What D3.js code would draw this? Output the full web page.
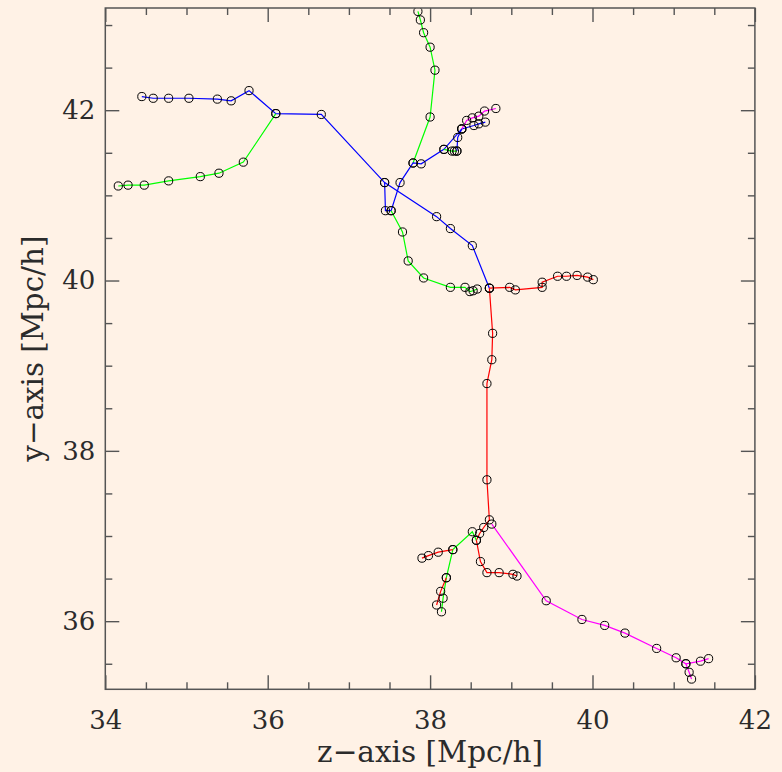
<!DOCTYPE html>
<html>
<head>
<meta charset="utf-8">
<script src="https://cdn.jsdelivr.net/npm/d3@7"></script>
<style>
  html, body { margin: 0; padding: 0; background: #FFF2E6; }
  svg { display: block; }
</style>
</head>
<body>
<svg id="chart" width="782" height="772"></svg>
<script>
// ---- data (z, y in Mpc/h) ----
const xTickValues = [34, 36, 38, 40, 42];
const yTickValues = [36, 38, 40, 42];
const xLabel = "z\u2212axis [Mpc/h]";
const yLabel = "y\u2212axis [Mpc/h]";

const blueMain = [[34.45,42.16],[34.59,42.14],[34.78,42.14],[35.03,42.14],[35.38,42.13],[35.55,42.11],[35.77,42.23],[36.10,41.96],[36.66,41.95],[37.44,41.15],[38.08,40.75],[38.25,40.61],[38.52,40.41],[38.73,39.91]];
const greenLeft = [[34.16,41.11],[34.28,41.12],[34.48,41.12],[34.78,41.17],[35.17,41.22],[35.40,41.26],[35.70,41.39],[36.10,41.96]];
const greenTop = [[37.85,43.16],[37.88,43.06],[37.92,42.91],[38.00,42.74],[38.06,42.47],[38.00,41.92],[37.79,41.38]];
const blueUpper = [[37.44,41.15],[37.45,40.82],[37.52,40.82],[37.63,41.15],[37.79,41.38],[37.89,41.37],[38.17,41.54],[38.39,41.78],[38.54,41.82],[38.60,41.84],[38.68,41.86]];
const blueSpur = [[38.33,41.52],[38.34,41.68],[38.39,41.78]];
const greenSpur = [[38.17,41.54],[38.27,41.52],[38.30,41.52],[38.33,41.52]];
const magentaTop = [[38.39,41.78],[38.45,41.88],[38.52,41.91],[38.60,41.93],[38.67,41.99],[38.81,42.02]];
const greenMid = [[37.52,40.82],[37.66,40.57],[37.73,40.23],[37.92,40.03],[38.25,39.92],[38.43,39.92],[38.49,39.87],[38.53,39.88],[38.58,39.90]];
const redRight = [[38.73,39.91],[38.98,39.92],[39.05,39.89],[39.38,39.92],[39.38,39.98],[39.57,40.05],[39.68,40.05],[39.81,40.06],[39.94,40.04],[40.01,40.01]];
const redTrunk = [[38.73,39.91],[38.77,39.38],[38.76,39.07],[38.70,38.79],[38.70,37.66],[38.73,37.19],[38.66,37.10],[38.61,37.03],[38.57,36.95],[38.62,36.70],[38.70,36.57],[38.85,36.57],[39.02,36.55],[39.07,36.53]];
const magentaLow = [[38.76,37.14],[39.43,36.24],[39.87,36.02],[40.15,35.95],[40.40,35.86],[40.79,35.68],[41.03,35.57],[41.15,35.50],[41.33,35.53],[41.43,35.56]];
const magentaTwig = [[41.15,35.50],[41.19,35.40],[41.22,35.32]];
const greenLow = [[38.57,36.95],[38.52,37.05],[38.28,36.84],[38.20,36.51],[38.16,36.27],[38.14,36.11]];
const redLeft = [[38.28,36.84],[38.10,36.81],[37.98,36.77],[37.90,36.74]];
const redTwig = [[38.20,36.51],[38.13,36.35],[38.08,36.19]];

const branches = [
  { name: "blueMain", pts: blueMain, kind: "blue" },
  { name: "greenLeft", pts: greenLeft, kind: "green" },
  { name: "greenTop", pts: greenTop, kind: "green" },
  { name: "blueUpper", pts: blueUpper, kind: "blue" },
  { name: "blueSpur", pts: blueSpur, kind: "blue" },
  { name: "greenSpur", pts: greenSpur, kind: "green" },
  { name: "magentaTop", pts: magentaTop, kind: "magenta" },
  { name: "greenMid", pts: greenMid, kind: "green" },
  { name: "redRight", pts: redRight, kind: "red" },
  { name: "redTrunk", pts: redTrunk, kind: "red" },
  { name: "magentaLow", pts: magentaLow, kind: "magenta" },
  { name: "magentaTwig", pts: magentaTwig, kind: "magenta" },
  { name: "greenLow", pts: greenLow, kind: "green" },
  { name: "redLeft", pts: redLeft, kind: "red" },
  { name: "redTwig", pts: redTwig, kind: "red" }
];

// ---- styles / layout ----
const colors = { blue: "#0000FF", green: "#00FF00", red: "#FF0000", magenta: "#FF00FF" };
const L = 105.3, R = 754.9, T = 8, B = 689.3;
const axisColor = "#555";
const textColor = "#2b2b2b";

const svg = d3.select("#chart");
const x = d3.scaleLinear().domain([34, 42]).range([L, R]);
const y = d3.scaleLinear().domain([35.2, 43.2]).range([B, T]);

svg.append("defs").append("clipPath").attr("id", "plotclip")
  .append("rect").attr("x", L).attr("y", T).attr("width", R - L).attr("height", B - T);

const plot = svg.append("g").attr("clip-path", "url(#plotclip)");
const line = d3.line().x(d => x(d[0])).y(d => y(d[1]));

plot.selectAll("path.branch").data(branches).join("path")
  .attr("class", "branch")
  .attr("d", d => line(d.pts))
  .attr("fill", "none")
  .attr("stroke", d => colors[d.kind])
  .attr("stroke-width", 1.2);

const allPts = branches.flatMap(b => b.pts);
plot.selectAll("circle").data(allPts).join("circle")
  .attr("cx", d => x(d[0]))
  .attr("cy", d => y(d[1]))
  .attr("r", 4.1)
  .attr("fill", "none")
  .attr("stroke", "#000")
  .attr("stroke-width", 1);

// ---- axes ----
const xMinor = d3.range(34, 42.01, 0.5).filter(v => !xTickValues.includes(v));
const yMinor = d3.range(35.5, 43.01, 0.5).filter(v => !yTickValues.includes(v));

function styleAxis(g) {
  g.select(".domain").remove();
  g.selectAll(".tick line").attr("stroke", axisColor).attr("stroke-width", 1.4);
  g.selectAll("text").attr("fill", textColor).attr("font-family", "'DejaVu Serif', serif").attr("font-size", 26);
}

// bottom
svg.append("g").attr("transform", `translate(0,${B})`)
  .call(d3.axisBottom(x).tickValues(xTickValues).tickSize(-14).tickPadding(21).tickFormat(d3.format("d")))
  .call(styleAxis);
svg.append("g").attr("transform", `translate(0,${B})`)
  .call(d3.axisBottom(x).tickValues(xMinor).tickSize(-7).tickFormat(""))
  .call(styleAxis);
// top
svg.append("g").attr("transform", `translate(0,${T})`)
  .call(d3.axisTop(x).tickValues(xTickValues).tickSize(-14).tickFormat(""))
  .call(styleAxis);
svg.append("g").attr("transform", `translate(0,${T})`)
  .call(d3.axisTop(x).tickValues(xMinor).tickSize(-7).tickFormat(""))
  .call(styleAxis);
// left
svg.append("g").attr("transform", `translate(${L},0)`)
  .call(d3.axisLeft(y).tickValues(yTickValues).tickSize(-14).tickPadding(10).tickFormat(d3.format("d")))
  .call(styleAxis);
svg.append("g").attr("transform", `translate(${L},0)`)
  .call(d3.axisLeft(y).tickValues(yMinor).tickSize(-7).tickFormat(""))
  .call(styleAxis);
// right
svg.append("g").attr("transform", `translate(${R},0)`)
  .call(d3.axisRight(y).tickValues(yTickValues).tickSize(-14).tickFormat(""))
  .call(styleAxis);
svg.append("g").attr("transform", `translate(${R},0)`)
  .call(d3.axisRight(y).tickValues(yMinor).tickSize(-7).tickFormat(""))
  .call(styleAxis);

// frame
svg.append("rect").attr("x", L).attr("y", T).attr("width", R - L).attr("height", B - T)
  .attr("fill", "none").attr("stroke", axisColor).attr("stroke-width", 1.5);

// titles
svg.append("text")
  .attr("x", (L + R) / 2).attr("y", 762)
  .attr("text-anchor", "middle")
  .attr("font-family", "'DejaVu Serif', serif").attr("font-size", 30)
  .attr("textLength", 226).attr("lengthAdjust", "spacingAndGlyphs")
  .attr("fill", textColor)
  .text(xLabel);

svg.append("text")
  .attr("transform", `translate(43,${(T + B) / 2}) rotate(-90)`)
  .attr("text-anchor", "middle")
  .attr("font-family", "'DejaVu Serif', serif").attr("font-size", 30)
  .attr("textLength", 226).attr("lengthAdjust", "spacingAndGlyphs")
  .attr("fill", textColor)
  .text(yLabel);
</script>
</body>
</html>
